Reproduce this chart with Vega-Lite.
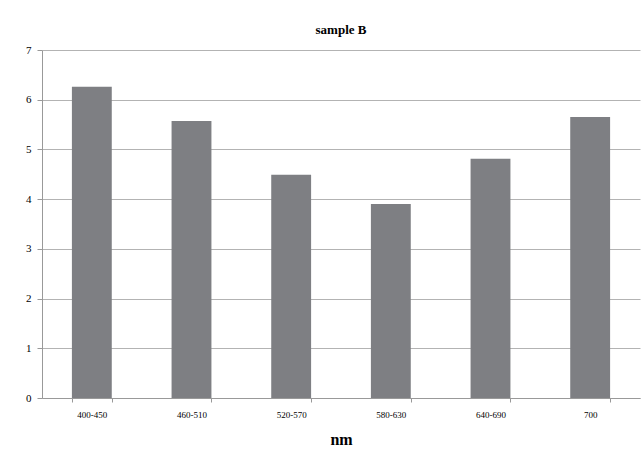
{
  "$schema": "https://vega.github.io/schema/vega-lite/v6.json",
  "width": 598,
  "height": 348,
  "autosize": {"type": "none"},
  "padding": {"left": 42, "top": 50, "right": 1, "bottom": 56},
  "background": "white",
  "title": {"text": "sample  B", "font": "Times New Roman, Liberation Serif, serif", "fontSize": 13, "fontWeight": "bold", "color": "#000000", "anchor": "middle", "offset": 7},
  "data": {"values": [
    {"range": "400-450", "value": 6.26},
    {"range": "460-510", "value": 5.57},
    {"range": "520-570", "value": 4.49},
    {"range": "580-630", "value": 3.9},
    {"range": "640-690", "value": 4.81},
    {"range": "700", "value": 5.65}
  ]},
  "mark": {"type": "bar", "color": "#7e7f83"},
  "encoding": {
    "x": {"field": "range", "type": "nominal", "sort": null, "title": "nm",
      "scale": {"paddingInner": 0.6, "paddingOuter": 0.3},
      "axis": {"labelAngle": 0, "labelFont": "Times New Roman, Liberation Serif, serif", "labelFontSize": 9, "labelColor": "#000000", "labelPadding": 8,
        "titleFont": "Times New Roman, Liberation Serif, serif", "titleFontSize": 16, "titleFontWeight": "bold", "titleColor": "#000000", "titlePadding": 12,
        "domainColor": "#999999", "tickColor": "#999999", "tickSize": 4, "tickBand": "extent", "grid": false}},
    "y": {"field": "value", "type": "quantitative", "title": null,
      "scale": {"domain": [0, 7], "nice": false},
      "axis": {"values": [0,1,2,3,4,5,6,7], "labelFont": "Times New Roman, Liberation Serif, serif", "labelFontSize": 11, "labelColor": "#000000", "labelPadding": 6,
        "domainColor": "#999999", "tickColor": "#999999", "tickSize": 5,
        "grid": true, "gridColor": "#b3b3b3", "gridWidth": 1}}
  },
  "config": {"view": {"stroke": null}}
}
